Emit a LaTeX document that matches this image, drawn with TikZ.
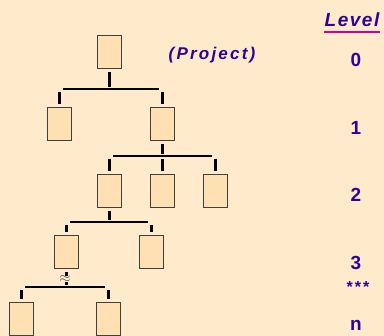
\documentclass[tikz,border=0pt]{standalone}
\usepackage{fontspec}
\setmainfont{Liberation Sans}
\newfontfamily\levelsans[LetterSpace=8]{Liberation Sans}
\newfontfamily\projsans[LetterSpace=13]{Liberation Sans}
\usetikzlibrary{positioning}
\definecolor{bgpeach}{HTML}{FFEACB}
\definecolor{boxfill}{HTML}{FFE0B2}
\definecolor{lvlblue}{HTML}{330099}
\definecolor{lvlpink}{HTML}{CC0099}

\begin{document}
\begin{tikzpicture}[x=1pt, y=-1pt,
    wbs/.style={draw=black!75, fill=boxfill, line width=1pt, inner sep=0pt,
      minimum width=24pt, minimum height=33pt},
    stem/.style={line width=3pt},
    bar/.style={line width=2.3pt},
    lvl/.style={text=lvlblue, anchor=base, inner sep=0pt,
      font=\fontsize{19}{19}\selectfont\bfseries}]
    \fill[bgpeach] (0,0) rectangle (384,336);
    \useasboundingbox (0,0) rectangle (384,336);
    % work packages, level by level
    \node[wbs] (p) at (109,52) {};
    \node[wbs] (a1) at (59,124) {};
    \node[wbs] (a2) at (162,124) {};
    \node[wbs] (b1) at (109,191) {};
    \node[wbs] (b2) at (162,191) {};
    \node[wbs] (b3) at (215,191) {};
    \node[wbs] (c1) at (66,252) {};
    \node[wbs] (c2) at (151,252) {};
    \node[wbs] (d1) at (21,319) {};
    \node[wbs] (d2) at (108,319) {};
    \foreach \mom/\by/\first/\last in {p/89/a1/a2, a2/156/b1/b3, b1/222/c1/c2, c1/287/d1/d2} {
      \coordinate (y\mom) at (0,\by);
      \draw[stem] ([yshift=-3pt]\mom.south) -- ([yshift=2pt]\mom.south |- y\mom);
      \draw[bar] ([xshift=4pt]\first.north |- y\mom) -- ([xshift=-3pt]\last.north |- y\mom);
    }
    \foreach \kid/\mom in {a1/p, a2/p, b1/a2, b2/a2, b3/a2, c1/b1, c2/b1, d1/c1, d2/c1}
      \draw[stem] ([yshift=-3pt]\kid.north |- y\mom) -- ([yshift=3pt]\kid.north);
    \node[fill=bgpeach, text=black!70, inner sep=0pt, font=\fontsize{14}{14}\selectfont]
      (skip) at (65,279) {$\approx$};
    % labels
    \node[lvl, font=\fontsize{19}{19}\selectfont\levelsans\bfseries\itshape] (title) at (352,27) {Level};
    \draw[lvlpink, line width=1.3pt] ([yshift=-5pt]title.base west) -- ([yshift=-5pt]title.base east);
    \node[lvl, font=\fontsize{17}{17}\selectfont\projsans\bfseries\itshape] (proj) at (212,60) {(Project)};
    \foreach \n/\y in {0/67, 1/135, 2/202, 3/270, n/331}
      \node[lvl] (l\n) at (356,\y) {\n};
    \node[lvl, font=\fontsize{16}{16}\selectfont\projsans\bfseries] (ldots) at (358,293) {***};
\end{tikzpicture}
\end{document}
